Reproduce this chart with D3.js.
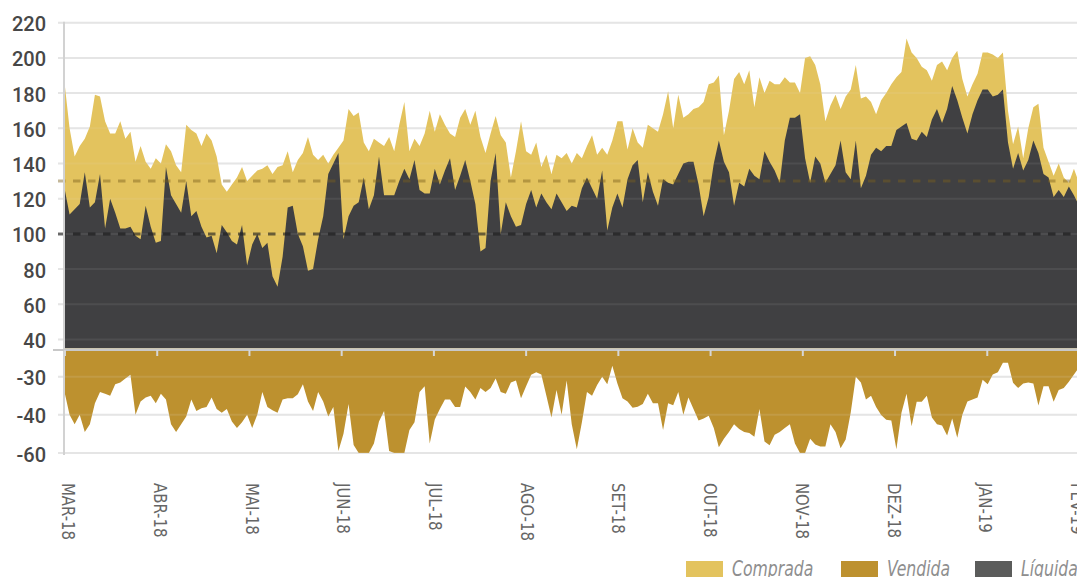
<!DOCTYPE html>
<html>
<head>
<meta charset="utf-8">
<script src="https://cdn.jsdelivr.net/npm/d3@7"></script>
<style>
  body { margin: 0; background: #fff; }
  svg { display: block; }
</style>
</head>
<body>
<svg class="chart" width="1077" height="577"></svg>
<script>
// month labels on the x axis (evenly spaced)
const months = ['MAR-18','ABR-18','MAI-18','JUN-18','JUL-18','AGO-18','SET-18','OUT-18','NOV-18','DEZ-18','JAN-19','FEV-19'];

// posição comprada (top of the yellow area)
const comprada = [
  186,160,144,150,154,161,179,178,164,157,
  157,164,154,158,141,150,141,137,143,140,
  151,147,139,135,162,159,157,150,157,153,
  144,128,124,128,132,138,130,133,136,137,
  139,134,138,139,147,135,142,146,155,145,
  142,145,140,145,149,153,171,167,169,152,
  147,154,152,150,155,147,162,175,147,154,
  150,157,170,158,168,162,157,155,166,171,
  162,170,155,146,157,167,156,152,132,147,
  164,147,145,152,138,145,134,145,143,146,
  140,146,143,150,156,145,149,145,153,164,
  164,148,160,152,149,162,160,158,168,181,
  160,179,166,168,171,172,175,185,186,190,
  156,170,188,192,185,193,172,189,180,187,
  185,185,189,186,186,180,200,201,196,185,
  164,173,179,171,178,182,196,177,178,175,
  168,176,180,185,189,192,211,203,200,195,
  193,187,196,198,193,200,204,188,178,185,
  191,203,203,202,200,203,170,151,161,143,
  160,172,174,149,141,133,140,132,129,137,
  129
];

// posição líquida (top of the dark area)
const liquida = [
  126,111,114,117,135,115,118,134,103,120,
  112,103,103,104,99,97,116,104,95,96,
  138,122,117,112,130,110,113,104,98,99,
  89,105,101,96,94,105,82,94,100,92,
  95,76,70,87,115,116,100,93,79,80,
  97,110,134,140,146,97,110,116,118,132,
  114,122,144,122,122,122,130,137,131,142,
  125,123,123,137,128,136,143,125,133,142,
  130,117,90,92,130,146,100,118,110,104,
  105,117,125,115,123,118,114,123,118,113,
  116,115,126,132,126,120,136,102,115,123,
  115,131,139,142,118,135,124,116,131,129,
  128,134,140,141,141,128,110,121,140,153,
  141,135,116,129,127,137,133,131,147,141,
  136,129,153,166,166,168,143,129,144,140,
  129,134,139,153,135,131,153,126,133,145,
  149,147,150,150,159,161,163,154,153,158,
  155,165,171,163,171,184,176,166,157,168,
  176,182,182,178,179,182,152,137,146,136,
  142,153,146,134,132,121,125,121,127,122,
  116
];

// posição vendida (lower panel)
const vendida = [
  -34,-40,-45,-40,-49,-45,-37,-34,-34.5,-35,
  -32,-31.5,-30.5,-29.5,-40,-36.5,-35.5,-35,-37,-34.5,
  -36,-45,-49,-45,-41,-36,-39,-38.3,-38,-35.5,
  -38.5,-39.5,-38.5,-43.5,-47,-44,-40,-47,-40,-34,
  -38,-38.8,-39.5,-36,-35.7,-35.7,-34.6,-32,-36.5,-39,
  -34,-36.5,-41,-38,-59,-50,-37.2,-55.8,-60,-60,
  -60,-55,-43.5,-39,-59,-60,-60,-60,-48,-44,
  -34,-32.5,-55,-42.5,-38.5,-36,-36,-38,-38,-32.6,
  -34,-36,-33,-34,-33,-30.5,-34,-34.5,-31.5,-31,
  -35.7,-32.5,-29.5,-28.8,-29.4,-35,-41.5,-33.5,-40,-31,
  -45,-58,-44,-34,-35,-32.2,-30,-32,-27,-31.8,
  -35.7,-36.5,-38.2,-37.9,-37.2,-34.5,-37,-37,-48,-37,
  -37.5,-34,-40,-35.5,-38.5,-43,-42,-40.5,-47,-57,
  -52.5,-49,-45,-47.5,-49,-49.5,-51.5,-38.5,-54,-56,
  -50.5,-49,-47,-45,-55,-60,-60,-52.5,-55.5,-56.6,
  -56.6,-45,-49,-57.5,-53,-39.4,-30,-31.5,-36,-35,
  -38,-40.2,-42.7,-43,-58,-39.5,-34.5,-46,-36.6,-36.6,
  -35,-41.5,-45,-45.6,-50.8,-42,-52,-40,-36.5,-36,
  -35.5,-30.8,-32,-29.4,-28.8,-26.2,-26.2,-31.6,-33,-31.8,
  -31.5,-31.8,-37.6,-32.5,-32.5,-36.6,-33.5,-33,-31.3,-29.4,
  -27.5
];

const topTicks = [40, 60, 80, 100, 120, 140, 160, 180, 200, 220];
const bottomTicks = [-30, -40, -60];
const refLines = [130, 100];
const seriesNames = ['Comprada', 'Vendida', 'Líquida'];

const colors = { comprada: '#e3c35e', vendida: '#bd912f', liquida: '#404042', liquidaKey: '#5b5c5b' };

const svg = d3.select('.chart');
const W = 1077;
const last = comprada.length - 1;

const x = d3.scaleLinear().domain([0, last]).range([64.5, 1079]);
const yTop = d3.scaleLinear().domain([35, 220]).range([348.3, 22.7]);
// lower panel ticks are not evenly valued, so a piecewise scale
const yBot = d3.scaleLinear().domain([-23, -30, -40, -60]).range([351, 376.7, 414.7, 453]);

function gridLines(g, ticks, scale, opacity) {
  g.append('g').selectAll('line')
    .data(ticks).enter().append('line')
    .attr('x1', 58).attr('x2', W)
    .attr('y1', d => scale(d)).attr('y2', d => scale(d))
    .attr('stroke', '#e5e5e5').attr('stroke-width', 2)
    .attr('opacity', opacity);
}

// gridlines under the areas
const grid = svg.append('g');
gridLines(grid, topTicks, yTop, 1);
gridLines(grid, bottomTicks, yBot, 1);

const idx = comprada.map((d, i) => i);

const areaTop = (vals) => d3.area()
  .x(i => x(i))
  .y0(yTop(35))
  .y1(i => yTop(vals[i]));

svg.append('path').datum(idx)
  .attr('d', areaTop(comprada))
  .attr('fill', colors.comprada);

svg.append('path').datum(idx)
  .attr('d', areaTop(liquida))
  .attr('fill', colors.liquida);

svg.append('path').datum(idx)
  .attr('d', d3.area().x(i => x(i)).y0(yBot(-23)).y1(i => yBot(vendida[i])))
  .attr('fill', colors.vendida);

// faint gridlines over the areas
const gridOver = svg.append('g');
gridLines(gridOver, topTicks, yTop, 0.08);
gridLines(gridOver, bottomTicks, yBot, 0.12);

// dashed reference lines
svg.append('g').selectAll('line')
  .data(refLines).enter().append('line')
  .attr('x1', 58).attr('x2', W)
  .attr('y1', d => yTop(d)).attr('y2', d => yTop(d))
  .attr('stroke', (d, i) => i === 0 ? '#7a5f1c' : '#151515')
  .attr('stroke-opacity', (d, i) => i === 0 ? 0.45 : 0.6)
  .attr('stroke-width', 3)
  .attr('stroke-dasharray', '7.5,7.5');

// left axis line
svg.append('line')
  .attr('x1', 64).attr('x2', 64)
  .attr('y1', yTop(220) - 1).attr('y2', yBot(-60) + 2)
  .attr('stroke', '#d2d2d2').attr('stroke-width', 2);

// separator between panels
svg.append('line')
  .attr('x1', 53).attr('x2', W)
  .attr('y1', 350).attr('y2', 350)
  .attr('stroke', '#c8c8c8').attr('stroke-width', 2);

// y tick labels
const labelFont = 'Roboto, "Liberation Sans", sans-serif';
svg.append('g').selectAll('text')
  .data(topTicks.map(v => [v, yTop(v)]).concat(bottomTicks.map(v => [v, yBot(v)])))
  .enter().append('text')
  .attr('x', 46)
  .attr('y', d => d[1] + 1.5)
  .attr('dy', '0.35em')
  .attr('text-anchor', 'end')
  .attr('font-family', labelFont)
  .attr('font-weight', 500)
  .attr('font-size', 20)
  .attr('fill', '#474747')
  .text(d => d[0]);

// month axis
const narrowFont = '"Liberation Sans Narrow", "DejaVu Sans Condensed", sans-serif';
const monthIdx = months.map((m, i) => i * last / (months.length - 1));
const xAxis = d3.axisBottom(x)
  .tickValues(monthIdx)
  .tickFormat((d, i) => months[i])
  .tickSize(6)
  .tickPadding(0);

const ax = svg.append('g')
  .attr('transform', 'translate(0,350)')
  .call(xAxis);
ax.select('.domain').remove();
ax.selectAll('.tick line').attr('stroke', '#d6d6d6').attr('stroke-width', 2);
const lenScale = 0.92;
ax.selectAll('.tick text')
  .attr('transform', `rotate(90) scale(${lenScale},1)`)
  .attr('x', 133 / lenScale)
  .attr('y', (d, i) => -(3.5 - 0.52 * i))
  .attr('dy', '0.35em')
  .attr('text-anchor', 'start')
  .attr('font-family', narrowFont)
  .attr('font-size', 18)
  .attr('fill', '#666');

// legend
const legendX = [686, 841, 975];
const legendColors = [colors.comprada, colors.vendida, colors.liquidaKey];
const legend = svg.append('g');
const item = legend.selectAll('g')
  .data(seriesNames).enter().append('g')
  .attr('transform', (d, i) => `translate(${legendX[i]},561)`);
item.append('rect')
  .attr('width', 37).attr('height', 20)
  .attr('fill', (d, i) => legendColors[i]);
item.append('text')
  .attr('transform', 'translate(46,15) scale(0.83,1)')
  .attr('font-family', narrowFont)
  .attr('font-style', 'italic')
  .attr('font-size', 21)
  .attr('fill', '#8e8e8e')
  .text(d => d);
</script>
</body>
</html>
